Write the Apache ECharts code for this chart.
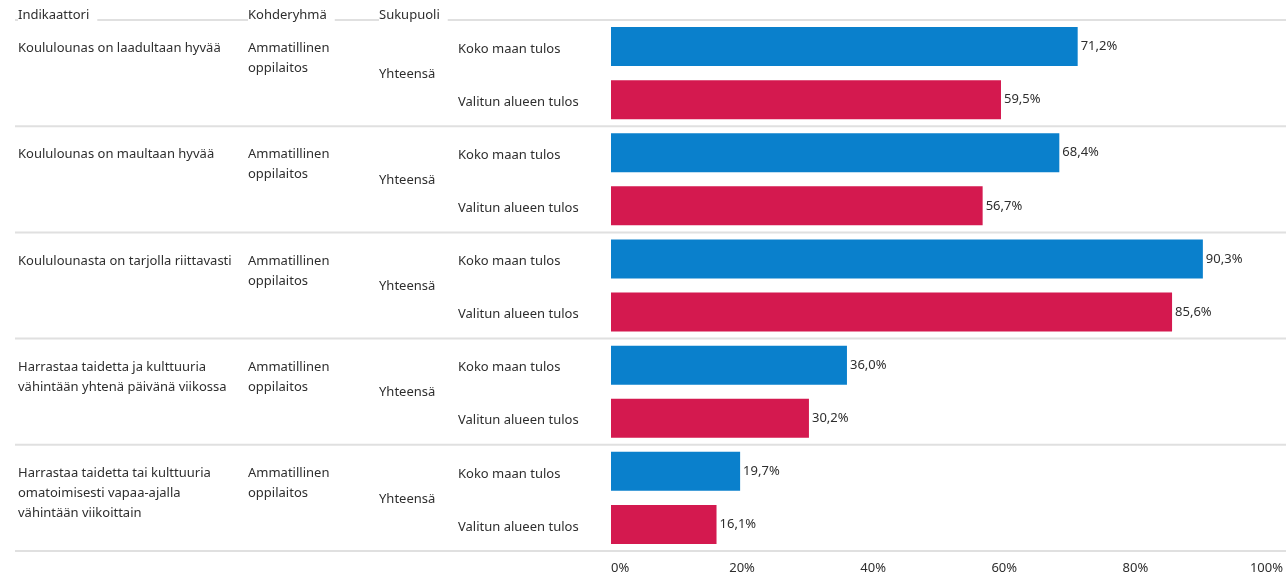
<!DOCTYPE html>
<html>
<head>
<meta charset="utf-8">
<script src="https://cdn.jsdelivr.net/npm/echarts@6/dist/echarts.min.js"></script>
<style>
html,body{margin:0;padding:0;background:#fff;}
#c{width:1286px;height:575px;}
</style>
</head>
<body>
<div id="c"></div>
<script>
const indicators = [
  "Koululounas on laadultaan hyvää",
  "Koululounas on maultaan hyvää",
  "Koululounasta on tarjolla riittavasti",
  "Harrastaa taidetta ja kulttuuria\nvähintään yhtenä päivänä viikossa",
  "Harrastaa taidetta tai kulttuuria\nomatoimisesti vapaa-ajalla\nvähintään viikoittain"
];
const targetGroup = "Ammatillinen\noppilaitos";
const genderLabel = "Yhteensä";
const seriesNames = ["Koko maan tulos", "Valitun alueen tulos"];
const nationalValues = [71.2, 68.4, 90.3, 36.0, 19.7];
const regionalValues = [59.5, 56.7, 85.6, 30.2, 16.1];
const headers = ["Indikaattori", "Kohderyhmä", "Sukupuoli"];
const xTicks = [0, 20, 40, 60, 80, 100];

const BLUE = "#0a80cc";
const RED = "#d4194f";
const TEXT = "#2e2e2e";
const FONT = "Noto Sans";
const FS = 13;

const categories = [];
const barData = [];
indicators.forEach((ind, i) => {
  categories.push("n" + i);
  barData.push({ value: nationalValues[i], itemStyle: { color: BLUE } });
  categories.push("r" + i);
  barData.push({ value: regionalValues[i], itemStyle: { color: RED } });
});

const chart = echarts.init(document.getElementById("c"), null, { renderer: "canvas" });
chart.setOption({
  animation: false,
  textStyle: { fontFamily: FONT },
  grid: { left: 611, right: 14, top: 20, bottom: 23, containLabel: false },
  xAxis: {
    type: "value",
    min: xTicks[0],
    max: xTicks[xTicks.length - 1],
    interval: 20,
    axisLine: { show: false },
    axisTick: { show: false },
    splitLine: { show: false },
    axisLabel: {
      formatter: "{value}%",
      color: TEXT,
      fontSize: FS,
      fontFamily: FONT,
      margin: 11,
      alignMinLabel: "left"
    }
  },
  yAxis: {
    type: "category",
    inverse: true,
    data: categories,
    axisLine: { show: false },
    axisTick: { show: false },
    splitLine: { show: false },
    axisLabel: {
      align: "left",
      verticalAlign: "top",
      lineHeight: 5,
      margin: 153,
      color: TEXT,
      fontSize: FS,
      fontFamily: FONT,
      formatter: (v, i) => seriesNames[i % 2]
    }
  },
  series: [{
    type: "bar",
    data: barData,
    barWidth: 39,
    label: {
      show: true,
      position: "right",
      distance: 3,
      color: TEXT,
      fontSize: FS,
      fontFamily: FONT,
      formatter: p => p.value.toFixed(1).replace(".", ",") + "%"
    }
  }]
});

// graphic overlay for table text and separators, positioned via axis scales
const yOf = c => chart.convertToPixel({ yAxisIndex: 0 }, c);
const slot = yOf(categories[1]) - yOf(categories[0]);
const graphics = [];
const line = y => ({
  type: "line", silent: true, z: 1,
  shape: { x1: 15, y1: y, x2: 1286, y2: y },
  style: { stroke: "#e0e0e0", lineWidth: 2 }
});
const txt = (x, y, s, vAlign, bg) => ({
  type: "text", x: x, y: y, silent: true, z: 5,
  style: Object.assign({ text: s, fill: TEXT, font: FS + "px '" + FONT + "'", lineHeight: 20, verticalAlign: vAlign || "middle" },
    bg ? { backgroundColor: "#fff", padding: [0, 8, 0, 0] } : {})
});
const topY = yOf(categories[0]) - slot / 2;
graphics.push(line(topY));
graphics.push(txt(18, topY - 5, headers[0], "middle", true));
graphics.push(txt(248, topY - 5, headers[1], "middle", true));
graphics.push(txt(379, topY - 5, headers[2], "middle", true));
indicators.forEach((ind, i) => {
  const yb = yOf(categories[2 * i]);
  const yr = yOf(categories[2 * i + 1]);
  graphics.push(txt(18, yb - 8, ind, "top"));
  graphics.push(txt(248, yb - 8, targetGroup, "top"));
  graphics.push(txt(379, (yb + yr) / 2 + 1, genderLabel));
  graphics.push(line(yr + slot / 2));
});
chart.setOption({ graphic: graphics });
</script>
</body>
</html>
